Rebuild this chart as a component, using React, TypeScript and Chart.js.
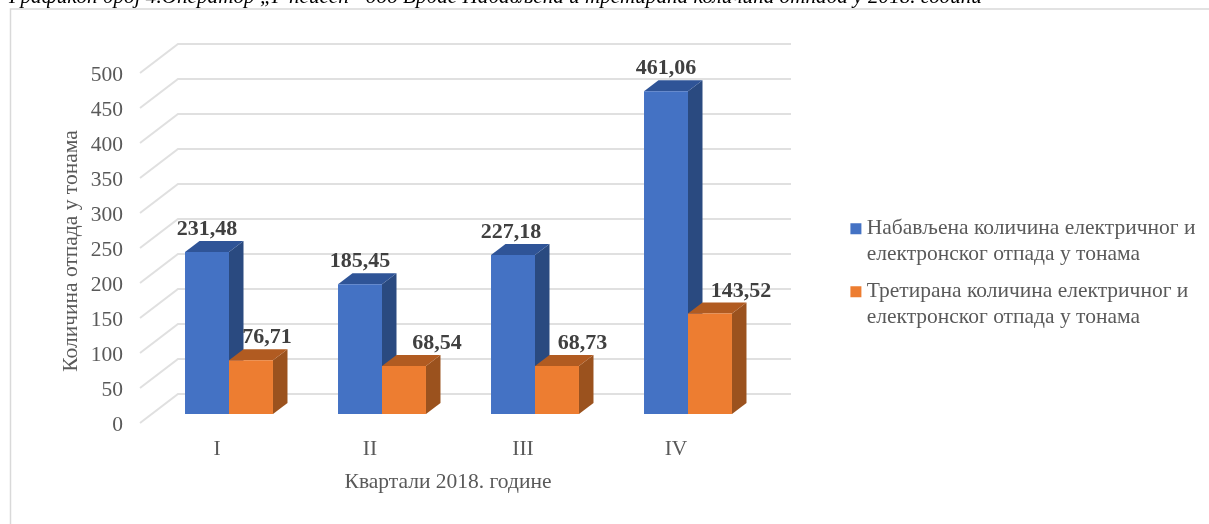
import React, { useEffect, useRef } from "react";
import { Chart, registerables } from "chart.js";

Chart.register(...registerables);

const captionText = "Графикон број 4.Оператор „Г неисеп” доо Врбас Набављена и третирана количина отпада у 2018. години";
const yAxisTitle = "Количина отпада у тонама";
const xAxisTitle = "Квартали 2018. године";
const quarters = ["I", "II", "III", "IV"];
const collected = [231.48, 185.45, 227.18, 461.06];
const treated = [76.71, 68.54, 68.73, 143.52];
const collectedName = ["Набављена количина електричног и", "електронског отпада у тонама"];
const treatedName = ["Третирана количина електричног и", "електронског отпада у тонама"];
const yTicks = [0, 50, 100, 150, 200, 250, 300, 350, 400, 450, 500];

const SERIF = "'Liberation Serif', serif";
const DEPTH_X = 14.5;
const DEPTH_Y = 11;
const labelShift = [
  [0, 0, -2, 0],
  [16, 33, 25.5, 31],
];
const faces = [
  { front: "#4472C4", top: "#2F5497", side: "#2A4A80" },
  { front: "#ED7D31", top: "#B15B21", side: "#9B521E" },
];

const fmt = (v: number) => v.toFixed(2).replace(".", ",");

const scene = {
  id: "scene",
  afterLayout(chart: any) {
    const lg = chart.legend;
    const w = lg.width;
    const h = lg.height;
    lg.left = 844.9;
    lg.right = lg.left + w;
    lg.top = 207;
    lg.bottom = lg.top + h;
    lg.adjustHitBoxes && lg.adjustHitBoxes();
  },
  beforeDraw(chart: any) {
    const { ctx } = chart;
    ctx.save();
    ctx.fillStyle = "#fff";
    ctx.fillRect(0, 0, chart.width, chart.height);
    ctx.strokeStyle = "#d9d9d9";
    ctx.lineWidth = 1.5;
    ctx.beginPath();
    ctx.moveTo(10.5, 524);
    ctx.lineTo(10.5, 9);
    ctx.lineTo(1209, 9);
    ctx.stroke();
    ctx.fillStyle = "#000";
    ctx.font = `italic 21.2px ${SERIF}`;
    ctx.textAlign = "left";
    ctx.textBaseline = "alphabetic";
    ctx.fillText(captionText, 9, 3);
    ctx.restore();
  },
  beforeDatasetsDraw(chart: any) {
    const { ctx } = chart;
    const y = chart.scales.y;
    ctx.save();
    ctx.strokeStyle = "#e0e0e0";
    ctx.lineWidth = 2;
    yTicks.forEach((t) => {
      const py = y.getPixelForValue(t);
      ctx.beginPath();
      ctx.moveTo(140, py + 9);
      ctx.lineTo(178, py - 20);
      ctx.lineTo(791, py - 20);
      ctx.stroke();
    });
    chart.data.datasets.forEach((_: any, di: number) => {
      chart.getDatasetMeta(di).data.forEach((b: any) => {
        const l = b.x - b.width / 2;
        const r = b.x + b.width / 2;
        ctx.fillStyle = faces[di].side;
        ctx.beginPath();
        ctx.moveTo(r, b.y);
        ctx.lineTo(r + DEPTH_X, b.y - DEPTH_Y);
        ctx.lineTo(r + DEPTH_X, b.base - DEPTH_Y);
        ctx.lineTo(r, b.base);
        ctx.closePath();
        ctx.fill();
        ctx.fillStyle = faces[di].top;
        ctx.beginPath();
        ctx.moveTo(l, b.y);
        ctx.lineTo(l + DEPTH_X, b.y - DEPTH_Y);
        ctx.lineTo(r + DEPTH_X, b.y - DEPTH_Y);
        ctx.lineTo(r, b.y);
        ctx.closePath();
        ctx.fill();
      });
    });
    ctx.restore();
  },
  afterDraw(chart: any) {
    const { ctx } = chart;
    ctx.save();
    ctx.textAlign = "center";
    ctx.textBaseline = "middle";
    ctx.fillStyle = "#404040";
    ctx.font = `bold 22px ${SERIF}`;
    chart.data.datasets.forEach((ds: any, di: number) => {
      chart.getDatasetMeta(di).data.forEach((b: any, i: number) => {
        ctx.fillText(fmt(ds.data[i]), b.x + labelShift[di][i], b.y - 22.5);
      });
    });
    ctx.fillStyle = "#595959";
    ctx.font = `21.5px ${SERIF}`;
    ctx.fillText(xAxisTitle, 448, 482);
    ctx.translate(71, 251);
    ctx.rotate(-Math.PI / 2);
    ctx.fillText(yAxisTitle, 0, 0);
    ctx.restore();
  },
};

export default function App() {
  const ref = useRef<HTMLCanvasElement>(null);
  useEffect(() => {
    document.body.style.margin = "0";
    const chart = new Chart(ref.current!, {
      type: "bar",
      plugins: [scene],
      data: {
        labels: quarters,
        datasets: [
          { label: collectedName as any, data: collected, backgroundColor: faces[0].front, borderWidth: 0, categoryPercentage: 0.575, barPercentage: 1 },
          { label: treatedName as any, data: treated, backgroundColor: faces[1].front, borderWidth: 0, categoryPercentage: 0.575, barPercentage: 1 },
        ],
      },
      options: {
        responsive: false,
        animation: false,
        layout: { padding: { top: 64, left: 0, right: 444.5, bottom: 0 } },
        plugins: {
          tooltip: { enabled: false },
          title: { display: false },
          legend: {
            position: "chartArea",
            align: "start",
            labels: {
              usePointStyle: true,
              pointStyle: "rect",
              boxWidth: 0.01,
              boxHeight: 11,
              padding: 11,
              color: "#595959",
              font: { family: SERIF, size: 21.5, lineHeight: 26 / 21.5 },
            },
          } as any,
        },
        scales: {
          x: {
            grid: { display: false, drawTicks: false },
            border: { display: false },
            afterFit: (s: any) => { s.height = 110; },
            ticks: { padding: 22, labelOffset: -12, color: "#595959", font: { family: SERIF, size: 21.5 } },
          },
          y: {
            min: 0,
            max: 500,
            afterFit: (s: any) => { s.width = 152.5; },
            grid: { display: false, drawTicks: false },
            border: { display: false },
            afterBuildTicks: (s: any) => { s.ticks = yTicks.map((value) => ({ value })); },
            ticks: { padding: 29.5, labelOffset: 11, color: "#595959", font: { family: SERIF, size: 21.5 } },
          },
        },
      },
    } as any);
    return () => chart.destroy();
  }, []);
  return <canvas ref={ref} width={1209} height={524} style={{ display: "block", filter: "blur(0.5px)" }} />;
}
